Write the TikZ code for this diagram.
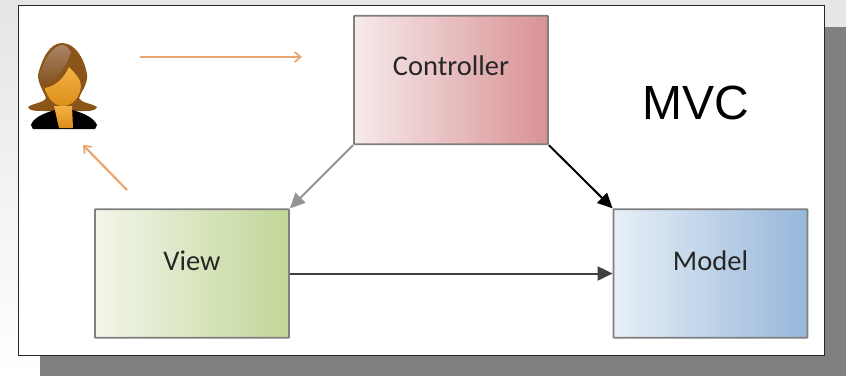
\documentclass[tikz,border=0pt]{standalone}
\usepackage{fontspec}
\setmainfont{Carlito}
\newfontfamily\mvcfont{Liberation Sans}
\usetikzlibrary{arrows.meta}
\definecolor{shadowgrey}{HTML}{808080}
\definecolor{edgegrey}{HTML}{7F7F7F}
\definecolor{orangeline}{HTML}{EBA56F}
\definecolor{hair}{RGB}{139,84,24}
\definecolor{hairhi}{RGB}{170,132,102}
\definecolor{hairlo}{RGB}{130,82,30}
\definecolor{skinhi}{RGB}{243,177,72}
\definecolor{skinlo}{RGB}{220,142,24}
\definecolor{conl}{RGB}{247,234,235}
\definecolor{conr}{RGB}{216,146,148}
\definecolor{viewl}{RGB}{243,246,234}
\definecolor{viewr}{RGB}{193,214,152}
\definecolor{modl}{RGB}{232,239,247}
\definecolor{modr}{RGB}{150,183,218}
\tikzset{
  x=1pt,y=-1pt,
  mvcbox/.style={draw=edgegrey,line width=1.8pt,rounded corners=0.6pt,minimum width=194pt,minimum height=128.5pt,inner sep=0pt},
  boxtext/.style={font=\fontsize{28.5}{30}\selectfont,text=black!85},
  conn/.style={line width=2pt,-{Triangle[length=15pt,width=14pt]}},
  orangearrow/.style={draw=orangeline,line width=2.2pt,-{Straight Barb[length=6pt,width=10pt,line width=1.8pt]}},
}
\begin{document}
\begin{tikzpicture}
\useasboundingbox (0,0) rectangle (846,376);
\shade[top color=black!10,bottom color=white] (0,0) rectangle (846,376);
\fill[shadowgrey] (40,27) rectangle (846,376);
\fill[white] (18,5) rectangle (824,355);
\draw[black!85,line width=1pt] (18,5) rectangle (824,355);

\node[mvcbox,left color=conl,right color=conr,label={[boxtext,yshift=14pt]center:Controller}] (controller) at (451,80) {};
\node[mvcbox,left color=viewl,right color=viewr,label={[boxtext,yshift=12.5pt]center:View}] (view) at (192,273.5) {};
\node[mvcbox,left color=modl,right color=modr,label={[boxtext,yshift=12.5pt]center:Model}] (model) at (710.5,273.5) {};

\node[font=\mvcfont\fontsize{48}{52}\selectfont,text=black] (mvc) at (696,103) {MVC};

% woman
\coordinate (womanfoot) at (127,190);
\coordinate (womanhead) at (83,145);
\coordinate (gazestart) at (140,57);
\coordinate (gazeend) at (302,57);
\fill[hair] (62,43) .. controls (50,43) and (42,58) .. (38,75) .. controls (38,84) and (44,92) .. (46,98) .. controls (44,103) and (33,103) .. (28,107) .. controls (29,111) and (36,111) .. (45,111) -- (80,111) .. controls (90,111) and (96,111) .. (97,107) .. controls (91,103) and (81,103) .. (79,98) .. controls (82,90) and (88,84) .. (87,74) .. controls (84,58) and (75,43) .. (62,43) -- cycle;
\fill[black] (31,125) .. controls (33,118) and (44,113) .. (55,110) -- (72,110) .. controls (84,113) and (94,118) .. (97,125) -- (95,129) -- (33,129) -- cycle;
\shade[top color=skinhi,bottom color=skinlo] (54,106) -- (72,106) -- (73,128) -- (59,128) -- cycle;
\shade[top color=skinhi,bottom color=skinlo] (69,67) .. controls (76,74) and (81,80) .. (81,86) .. controls (80,98) and (72,106) .. (63,106) .. controls (54,106) and (47,98) .. (45,88) .. controls (56,86) and (64,78) .. (69,67) -- cycle;
\shade[top color=hairhi,bottom color=hairlo] (62,45) .. controls (52,46) and (43,62) .. (39,76) .. controls (40,82) and (42,84) .. (44,86) .. controls (58,78) and (68,64) .. (71,52) .. controls (68,47) and (65,45) .. (62,45) -- cycle;

\draw[orangearrow] (gazestart) -- (gazeend);
\draw[orangearrow] (womanfoot) -- (womanhead);

\draw[conn,draw=black!42,fill=black!42] (controller.south west) -- (view.north east);
\draw[conn,draw=black,fill=black] (controller.south east) -- (model.north west);
\draw[conn,draw=black!75,fill=black] (view.east) -- (model.west);
\end{tikzpicture}
\end{document}
